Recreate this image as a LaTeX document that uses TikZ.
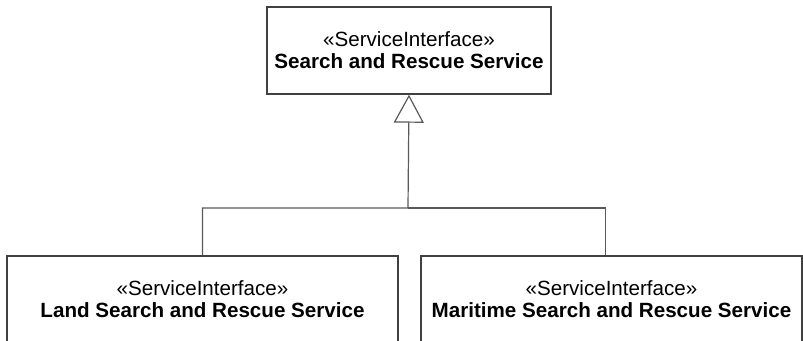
\documentclass[tikz,border=0pt]{standalone}
\usepackage{fontspec}
\setmainfont{Liberation Sans}
\usetikzlibrary{arrows.meta}

\begin{document}
\begin{tikzpicture}[x=0.5pt,y=-0.5pt,
  iface/.style={draw=black!75, line width=0.7pt, align=center, inner sep=0pt,
    font=\fontsize{10.3}{11}\selectfont},
  gen/.style={draw=black!65, line width=0.6pt}]
  \useasboundingbox (0,0) rectangle (803,341);

  % Service interfaces
  \node[iface, minimum width=142pt, minimum height=43.5pt] (sar) at (409,50.5)
    {«ServiceInterface»\\\textbf{Search and Rescue Service}};
  \node[iface, minimum width=195.5pt, minimum height=43pt] (land) at (202.5,299)
    {«ServiceInterface»\\\textbf{Land Search and Rescue Service}};
  \node[iface, minimum width=190.5pt, minimum height=43pt] (maritime) at (611.5,299)
    {«ServiceInterface»\\\textbf{Maritime Search and Rescue Service}};

  % Generalisation
  \coordinate (join) at (408,208);
  \draw[gen, -{Triangle[open, length=14pt, width=15pt, fill=white]}]
    (land.north) |- (join) -- (sar.south);
  \draw[gen] ([xshift=-3pt]maritime.north) |- (join);
\end{tikzpicture}
\end{document}
